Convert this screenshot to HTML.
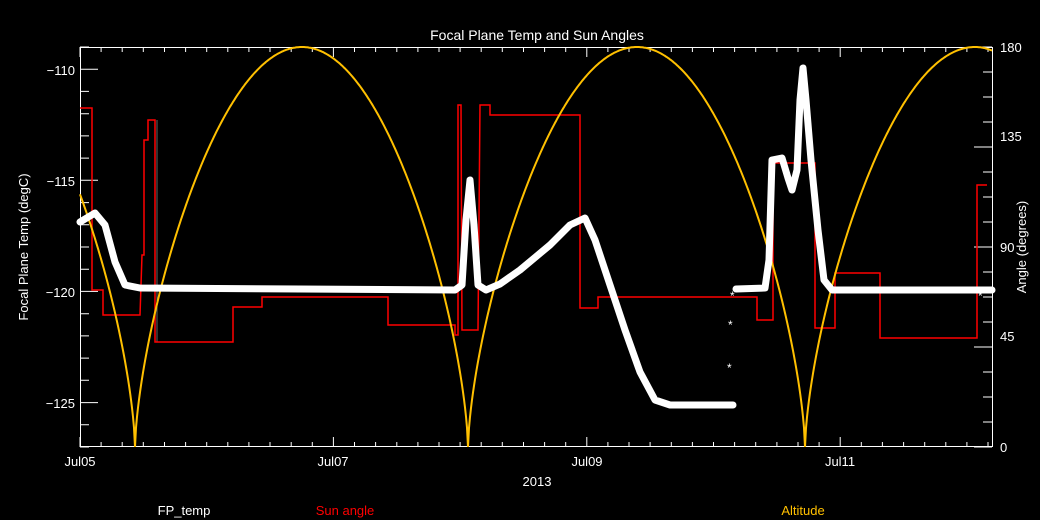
<!DOCTYPE html>
<html><head><meta charset="utf-8"><style>
html,body{margin:0;padding:0;background:#000;}
svg{display:block;font-family:"Liberation Sans",sans-serif;}
</style></head><body>
<svg id="s" width="1040" height="520" viewBox="0 0 1040 520" xmlns="http://www.w3.org/2000/svg">
<rect width="1040" height="520" fill="#000"/>
<g id="ticks" stroke="#fff" stroke-width="1" fill="none"></g>
<rect x="80.5" y="47.5" width="912" height="399" fill="none" stroke="#fff"/>
<path id="gray" fill="none" stroke="#666" stroke-width="1" d="M157,120 L157,342 M388,297 L388,325 M490,115 L580,115 M598,297 L727,297 M880,273 L880,338 M977,338 L977,185"/>
<path id="red" fill="none" stroke="#ff0000" stroke-width="1.5" d="M80,108 L92,108 L92,290 L103,290 L103,315 L140,315 L142,255 L144,255 L144,140 L148,140 L148,120 L155,120 L155,342 L233,342 L233,307 L262,307 L262,297 L388,297 L388,325 L455,325 L455,335 L458,335 L458,105 L461,105 L462,330 L478,330 L480,105 L490,105 L490,115 L580,115 L580,308 L598,308 L598,297 L757,297 L757,320 L773,320 L773,163 L815,163 L815,328 L835,328 L835,273 L880,273 L880,338 L977,338 L977,185 L987,185"/>
<path id="alt" fill="none" stroke="#ffc000" stroke-width="2"/>
<path id="fp" fill="none" stroke="#fff" stroke-width="7" stroke-linejoin="round" stroke-linecap="round" d="M80,222 L95,213 L105,225 L115,262 L125,285 L140,288 L300,289 L455,290 L462,285 L466,220 L470,180 L474,225 L478,285 L486,290 L500,284 L520,270 L550,245 L570,225 L585,218 L595,240 L610,285 L625,330 L640,372 L655,400 L670,405 L733,405"/>
<path fill="none" stroke="#fff" stroke-width="7" stroke-linejoin="round" stroke-linecap="round" d="M736,289 L765,288 L769,260 L772,160 L782,158 L788,178 L792,190 L797,170 L800,100 L803,68 L806,100 L811,160 L818,230 L824,280 L832,290 L992,290"/>
<g fill="#fff" font-size="12">
<text x="730" y="300">*</text><text x="728" y="329">*</text><text x="727" y="372">*</text><text x="978" y="300">*</text>
</g>
<g fill="#fff" font-size="13" text-anchor="end" id="lt">
<text x="75" y="75">−110</text><text x="75" y="186">−115</text><text x="75" y="297">−120</text><text x="75" y="408">−125</text>
</g>
<g fill="#fff" font-size="13" text-anchor="start">
<text x="1000" y="52">180</text><text x="1000" y="141">135</text><text x="1000" y="252">90</text><text x="1000" y="341">45</text><text x="1000" y="452">0</text>
</g>
<g fill="#fff" font-size="13" text-anchor="middle">
<text x="80" y="466">Jul05</text><text x="333" y="466">Jul07</text><text x="587" y="466">Jul09</text><text x="840" y="466">Jul11</text>
<text x="537" y="486">2013</text>
<text x="537" y="40" font-size="14">Focal Plane Temp and Sun Angles</text>
<text x="184" y="515">FP_temp</text>
<text x="345" y="515" fill="#ff0000">Sun angle</text>
<text x="803" y="515" fill="#ffc000">Altitude</text>
<text transform="translate(28,247) rotate(-90)">Focal Plane Temp (degC)</text>
<text transform="translate(1026,247) rotate(-90)">Angle (degrees)</text>
</g>
</svg>
<script>
var t=document.getElementById('ticks'),d='';
for(var i=0;i<=43;i++){var x=80+i*126.7/6;if(x>993)break;var L=(i%12==0)?10:5;d+='M'+x.toFixed(1)+',447v-'+L+'M'+x.toFixed(1)+',47v'+L;}
for(var v=-127;v<=-109;v++){var y=447-(v+127)*400/18;var L=(v%5==0)?18:9;d+='M80,'+y.toFixed(1)+'h'+L;}
for(var a=0;a<=180;a+=11.25){var y=447-a*400/180;var L=(a%45==0)?18:9;d+='M992,'+y.toFixed(1)+'h-'+L;}
t.innerHTML='<path d="'+d+'"/>';
var kp=[[-200,-1],[135,0],[302,0.5],[468,1],[637,1.5],[805,2],[975,2.5],[1200,3.2]];
function ph(x){for(var i=0;i<kp.length-1;i++){if(x<=kp[i+1][0]){var a=kp[i],b=kp[i+1];return a[1]+(b[1]-a[1])*(x-a[0])/(b[0]-a[0]);}}}
var p='';for(var x=80;x<=992;x+=1){var s=Math.abs(Math.sin(Math.PI*ph(x)));var v=180*Math.pow(s,0.65);var y=447-v*400/180;p+=(x==80?'M':'L')+x+','+y.toFixed(1);}
document.getElementById('alt').setAttribute('d',p);
</script>
</body></html>
